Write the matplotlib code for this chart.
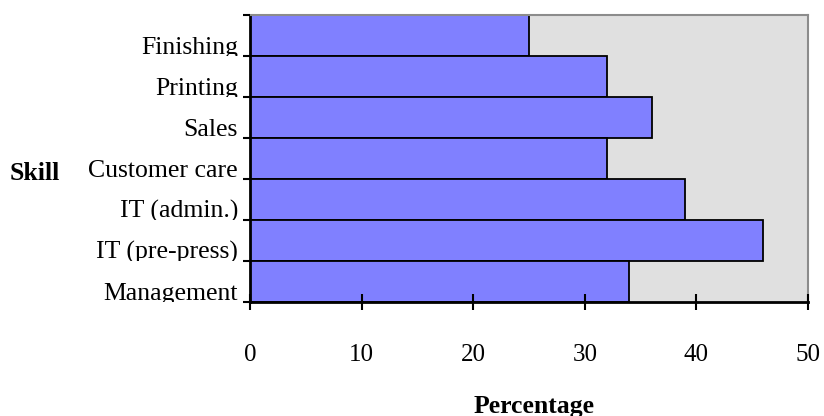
import matplotlib
matplotlib.use("Agg")
import matplotlib.pyplot as plt
import matplotlib.transforms as mtransforms
import numpy as np

# data (top to bottom as shown)
skills = ["Finishing", "Printing", "Sales", "Customer care",
          "IT (admin.)", "IT (pre-press)", "Management"]
percent = [25, 32, 36, 32, 39, 46, 34]
x_ticks = [0, 10, 20, 30, 40, 50]

plt.rcParams['font.family'] = ['Liberation Serif', 'DejaVu Serif']

fig = plt.figure(figsize=(8.24, 4.16), dpi=100)
ax = fig.add_axes([250 / 824, 114 / 416, 558 / 824, 287 / 416])
ax.set_facecolor('#e0e0e0')
ax.set_axisbelow(False)

n = len(skills)
ypos = np.arange(n)
ax.barh(ypos, percent, height=1.0, color='#8080ff', edgecolor='black',
        linewidth=1.3, zorder=2)

ax.set_xlim(0, 50)
ax.set_ylim(n - 0.5, -0.5)

# spines like the old spreadsheet chart
ax.spines['left'].set_linewidth(2)
ax.spines['bottom'].set_linewidth(2)
for s in ['top', 'right']:
    ax.spines[s].set_color('#8c8c8c')
    ax.spines[s].set_linewidth(1.5)

ax.set_xticks(x_ticks)
ax.set_xticklabels([str(t) for t in x_ticks], fontsize=18)
ax.tick_params(axis='x', direction='inout', length=12, width=1.5, pad=24)

# y ticks sit on the category boundaries, labels drawn separately
ax.set_yticks(np.arange(n + 1) - 0.5)
ax.set_yticklabels([])
ax.tick_params(axis='y', direction='out', length=5, width=1.5)

# category labels, sitting low in each band and clipped at the band edge
trans = mtransforms.blended_transform_factory(ax.transAxes, ax.transData)
off = mtransforms.offset_copy(trans, fig=fig, x=-12, y=2, units='dots')
for i, name in enumerate(skills):
    t = ax.text(0, i + 0.5, name, transform=off, ha='right', va='baseline',
                fontsize=18.5, clip_on=True)
    box = mtransforms.TransformedBbox(
        mtransforms.Bbox([[-0.5, i - 0.5], [0, i + 0.5]]), trans)
    t.set_clip_box(box)

fig.text(10 / 824, 1 - 173 / 416, "Skill", fontsize=18.5, fontweight='bold',
         ha='left', va='center')
fig.text(534 / 824, 3 / 416, "Percentage", fontsize=18.5, fontweight='bold',
         ha='center', va='baseline')

fig.savefig("out.png", dpi=100)
